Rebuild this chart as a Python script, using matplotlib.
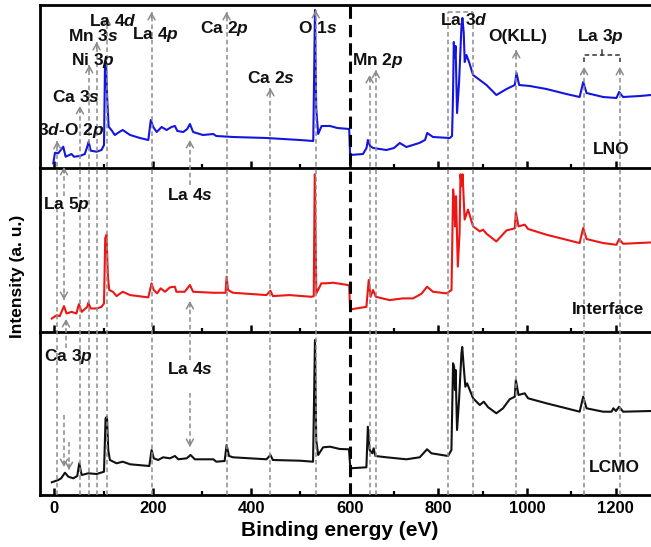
import numpy as np
import matplotlib
matplotlib.use("Agg")
import matplotlib.pyplot as plt

plt.rcParams['font.family'] = ['Liberation Sans', 'DejaVu Sans']
plt.rcParams['font.weight'] = 'bold'
plt.rcParams['mathtext.fontset'] = 'custom'
plt.rcParams['mathtext.rm'] = 'Liberation Sans:bold'
plt.rcParams['mathtext.it'] = 'Liberation Sans:italic:bold'
plt.rcParams['mathtext.bf'] = 'Liberation Sans:bold'

# ---------------------------------------------------------------- spectra (binding energy eV, intensity a.u.)
lno = [(-2, 4.7), (1.4, 15.3), (8, 14.7), (18.3, 21.3), (23, 11.3), (35, 14), (40, 11.3), (52, 12),
       (62, 14), (67, 21.3), (69.8, 26.3), (74, 17.3), (86, 16.3), (96, 18), (101, 23), (103, 103),
       (105, 106.3), (107.6, 68), (110.4, 41.3), (116, 38), (123, 33), (132, 36), (139, 38), (154, 33),
       (174, 30), (191, 28), (194, 40), (196, 48), (201, 41), (208, 36), (218, 41), (228, 38), (238, 41),
       (245, 42), (250, 37), (262, 36), (270, 39), (275.5, 44), (282, 36), (302, 33), (323, 34), (329, 32),
       (363, 31), (431, 30), (499, 28), (526, 27), (529.5, 158), (532, 60), (536, 34), (543, 42), (560, 42),
       (575, 40), (599, 39), (601, 13), (630, 14), (638, 20), (641, 28), (646, 22), (653, 20), (683, 18),
       (700, 20), (713, 25), (728, 21), (757, 25), (770, 28), (775, 35), (788, 31), (826, 30), (831, 32),
       (833, 68), (835, 126), (837, 110), (839, 122), (842.3, 55), (846.8, 85), (852.2, 141), (854.4, 150),
       (857.4, 135), (859.6, 106), (863.5, 113), (869.4, 106), (878.5, 93), (908.7, 83), (931, 73), (954, 79),
       (972.6, 83), (976.4, 95), (982.4, 83), (1006.5, 82), (1044, 79), (1089, 74), (1119, 71), (1127, 86),
       (1134.5, 75), (1172, 71), (1202, 70), (1208, 76), (1217, 71), (1255, 72), (1280, 73)]

interface = [(-5, 13.4), (5, 16.7), (11, 15.7), (19.7, 25.7), (25, 18.4), (35, 20), (45, 18.4), (50, 27.7),
             (55.6, 20), (67, 25), (69, 29), (74, 23.4), (86, 23.4), (96, 25), (101, 28.4), (103.5, 93.4),
             (106, 96.7), (109, 55), (111.6, 41.7), (119, 40), (126.5, 35.7), (139, 40), (154, 36.7), (191, 34.4),
             (197.6, 48.4), (202, 41.7), (209, 38.4), (216, 43.4), (225, 40), (235, 44.4), (245, 45), (248, 40),
             (265, 40), (275.5, 46.7), (282, 40), (323, 39), (348, 39), (350, 55), (353, 41.7), (363, 39),
             (431, 36.7), (439, 41), (444, 35.7), (478, 36.7), (522, 35), (527, 35.5), (529, 156.7),
             (532.3, 38.4), (542.5, 48.4), (552.7, 48.4), (566, 49), (596.6, 46.7), (599, 46), (601, 22.4),
             (637.7, 25), (643, 51.7), (647, 35), (652.7, 41.7), (659, 35), (690, 31.7), (720, 33.4), (743, 33.4),
             (762, 38), (774.6, 45), (788, 40), (818.5, 38.4), (829.8, 41.7), (833.4, 141.7), (835.6, 131.7),
             (838, 105), (840, 135), (844, 65), (848, 98.4), (850, 156.7), (852.6, 145), (854.8, 156.7),
             (859.4, 111.7), (867, 121.7), (878.5, 105), (893.6, 100), (901, 101.7), (908.7, 97.7), (931, 90),
             (954, 101), (972.6, 103), (975, 119), (981, 105), (995, 106.7), (1002.6, 102.4), (1044, 96.7),
             (1089, 91.7), (1119, 88.4), (1127, 103.4), (1134.5, 92.4), (1172, 88.4), (1202, 86.7),
             (1208, 92.4), (1217, 87.7), (1280, 89)]

lcmo = [(-5, 12.7), (8, 15), (14, 16.7), (21.7, 22.3), (28.5, 18.3), (38.6, 16.7), (46.7, 19), (50.7, 31.7),
        (55.6, 20), (69, 21.7), (86, 21), (101, 23.3), (104.2, 76.7), (107, 78.3), (109.6, 45), (113, 35),
        (126.5, 31.7), (139, 33.3), (154, 30.7), (193, 29), (197.6, 45), (202, 36.7), (211, 35), (221, 37.7),
        (235, 36.7), (245, 39), (252, 35.7), (269, 36.7), (276.8, 40), (285.5, 35.7), (323, 35.7), (329, 33.3),
        (346, 34), (350, 50), (355, 39), (363, 37.7), (431, 35.7), (439, 40), (444, 35), (499, 34.3),
        (525.6, 33.3), (529.5, 155), (532, 55), (536, 40), (546, 47.7), (560, 48.3), (580, 46), (598.6, 45.7),
        (601.5, 26.7), (637.7, 27.7), (641, 68.3), (645, 45), (651, 41.7), (654, 46.7), (658, 39), (683, 37.7),
        (728, 35.7), (758, 37.7), (774.6, 45.7), (784.5, 41.7), (822, 39), (829.6, 45), (833.3, 131.7),
        (835.6, 128.3), (837.6, 105), (839, 125), (842.3, 65), (846.8, 95), (852.2, 141.7), (854, 148),
        (857.4, 128), (861, 108.3), (865, 111.7), (871, 105), (878.5, 96.7), (893.6, 90), (902.6, 93.3),
        (912.5, 87.7), (931, 81.7), (946, 86.7), (961, 95.7), (972.6, 98.3), (975, 115), (981, 100),
        (995, 101.7), (1002.6, 96.7), (1044, 91.7), (1089, 86.7), (1119, 83.3), (1127, 98.3), (1134.5, 86.7),
        (1172, 83.3), (1191, 83.3), (1195, 86.7), (1201, 84), (1208, 88.3), (1217, 83.3), (1280, 84)]

sample_names = ['LNO', 'Interface', 'LCMO']
sample_colors = ['#1515e0', '#ee1515', '#111111']

# reference lines (eV) running through all panels
ref_energies = [6, 52, 71, 86, 107, 197.6, 350, 439, 531, 645, 659, 976, 1129, 1209.6]
la3d_box = (821, 878.5)
la3p_pair = (1129, 1209.6)
la5p_e, ca3p_e, ca3p_e2, la4s_e = 19.7, 23.7, 30, 275.5

major_ticks = [0, 200, 400, 600, 800, 1000, 1200]
minor_ticks = [100, 300, 500, 700, 900, 1100]


def fwd(e):
    e = np.asarray(e, float)
    return np.where(e <= 600, e, 600 + (e - 600) * 0.9)


def inv(t):
    t = np.asarray(t, float)
    return np.where(t <= 600, t, 600 + (t - 600) / 0.9)


W, H = 651, 547
fig = plt.figure(figsize=(W / 100, H / 100), dpi=100)
L, R = 40, 651


def rect(top, bottom):
    return [L / W, 1 - bottom / H, (R - L) / W, (bottom - top) / H]


panels = [(5, 168), (168, 332), (332, 495)]
axes = []
for i, (t, b) in enumerate(panels):
    ax = fig.add_axes(rect(t, b))
    ax.set_xscale('function', functions=(fwd, inv))
    ax.set_xlim(-29, 1280)
    ax.set_ylim(0, 163)
    ax.set_yticks([])
    ax.set_xticks(major_ticks)
    ax.set_xticks(minor_ticks, minor=True)
    ax.tick_params(axis='x', which='major', direction='in', length=5, width=1.8, pad=4, labelsize=12)
    ax.tick_params(axis='x', which='minor', direction='in', length=3, width=1.6)
    ax.spines['right'].set_visible(False)
    ax.spines['top'].set_visible(i == 0)
    for s in ['left', 'bottom', 'top']:
        ax.spines[s].set_linewidth(2)
    if i < 2:
        ax.tick_params(labelbottom=False)
    ax.patch.set_alpha(0)
    axes.append(ax)

for ax, spec, c in zip(axes, [lno, interface, lcmo], sample_colors):
    e, y = zip(*spec)
    ax.plot(e, y, color=c, lw=1.5, zorder=3)

# ---------------------------------------------------------------- overlay for marker lines
ov = fig.add_axes(rect(5, 495))
ov.set_xscale('function', functions=(fwd, inv))
ov.set_xlim(-29, 1280)
ov.set_ylim(0, 490)
ov.axis('off')
ov.patch.set_alpha(0)

grey = '#8c8c8c'
dash = (0, (3, 2))


def oy(p):
    return 495 - p


def vline(e, p0, p1):
    ov.plot([e, e], [oy(p0), oy(p1)], color=grey, lw=1.1, ls=dash, zorder=2)


def arrow(e, p_from, p_tip):
    vline(e, p_from, p_tip)
    step = 6 if p_tip < p_from else -6
    ov.annotate('', xy=(e, oy(p_tip)), xytext=(e, oy(p_tip + step)),
                arrowprops=dict(arrowstyle='->,head_length=0.45,head_width=0.25', color=grey, lw=1.1,
                                shrinkA=0, shrinkB=0))


tips = [141, 106, 65, 42, 17, 12, 12, 88, 10, 75, 70, 50, 67, 67]
for e, tp in zip(ref_energies, tips):
    arrow(e, 495, tp)

# La 3d box
vline(la3d_box[0], 495, 12)
vline(la3d_box[1], 495, 12)
ov.plot(la3d_box, [oy(12), oy(12)], color=grey, lw=1.1, ls=dash)

# La 3p bracket
ov.plot([la3p_pair[0], la3p_pair[0], la3p_pair[1], la3p_pair[1]],
        [oy(62), oy(55), oy(55), oy(62)], color='#333333', lw=1.1, ls=dash)
mid = inv((fwd(la3p_pair[0]) + fwd(la3p_pair[1])) / 2)
ov.plot([mid, mid], [oy(55), oy(50)], color='#333333', lw=1.1)

# short arrows between labels and spectra
arrow(la5p_e, 196, 167)
arrow(la5p_e, 212, 300)
arrow(ca3p_e, 348, 319)
arrow(la5p_e, 415, 467)
arrow(ca3p_e2, 442, 470)
arrow(la4s_e, 185, 140)
arrow(la4s_e, 360, 301)
arrow(la4s_e, 393, 447)

# thick dashed divider at 600 eV
ov.plot([600, 600], [0, 490], color='k', lw=2.2, ls=(0, (4, 2)), zorder=5)

# ---------------------------------------------------------------- text labels (pixel positions)
lab = fig.add_axes([0, 0, 1, 1])
lab.set_xlim(0, W)
lab.set_ylim(H, 0)
lab.axis('off')
lab.patch.set_alpha(0)

labels = [('La 4$d$', 113, 21), ('Mn 3$s$', 93, 36), ('Ni 3$p$', 93, 60), ('La 4$p$', 155, 34),
          ('Ca 2$p$', 224, 28), ('Ca 2$s$', 271, 78), ('O 1$s$', 318, 28), ('Ca 3$s$', 76, 97),
          ('3$d$-O 2$p$', 71, 131), ('Mn 2$p$', 378, 61), ('La 3$d$', 464, 20), ('O(KLL)', 518, 36),
          ('La 3$p$', 600, 37), ('La 4$s$', 190, 195), ('La 5$p$', 66, 204), ('Ca 3$p$', 68, 357),
          ('La 4$s$', 190, 369)]
for s, x, y in labels:
    lab.text(x, y, s, ha='center', va='center', fontsize=12.5, fontweight='bold', color='#111111')

for s, x, y in zip(sample_names, [611, 608, 614], [150, 309, 467]):
    lab.text(x, y, s, ha='center', va='center', fontsize=12.5, fontweight='bold', color='#111111')

lab.text(340, 531, 'Binding energy (eV)', ha='center', va='center', fontsize=15, fontweight='bold')
lab.text(18, 276, 'Intensity (a. u.)', ha='center', va='center', rotation=90, fontsize=12.5,
         fontweight='bold')

fig.savefig('out.png', dpi=100)
